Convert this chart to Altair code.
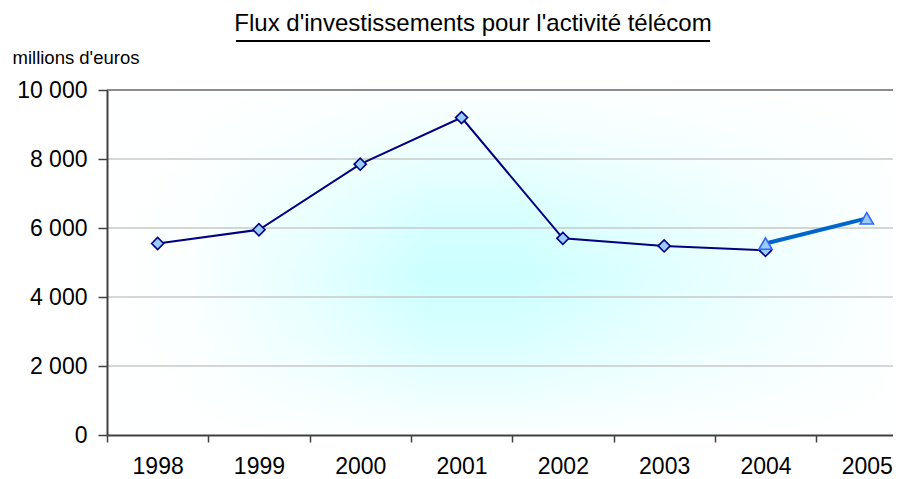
import altair as alt
import pandas as pd

years = [1998, 1999, 2000, 2001, 2002, 2003, 2004, 2005]
realise = [5550, 5950, 7850, 9200, 5700, 5480, 5350, None]
prevision = [None, None, None, None, None, None, 5550, 6280]
y_ticks = [0, 2000, 4000, 6000, 8000, 10000]
x_ticks = [1997.5, 1998.5, 1999.5, 2000.5, 2001.5, 2002.5, 2003.5, 2004.5]

title_text = "Flux d'investissements pour l'activité télécom"
unit_text = "millions d'euros"

rows = []
for yr, a, b in zip(years, realise, prevision):
    if a is not None:
        rows.append({"annee": yr, "valeur": a, "serie": "realise"})
    if b is not None:
        rows.append({"annee": yr, "valeur": b, "serie": "prevision"})
df = pd.DataFrame(rows)
grid_df = pd.DataFrame({"valeur": [v for v in y_ticks if v > 0]})

FONT = "Liberation Sans"
W, H = 786, 345

x_scale = alt.Scale(domain=[1997.5, 2005.259], nice=False, zero=False)
y_scale = alt.Scale(domain=[0, 10000], nice=False)

x_enc = alt.X(
    "annee:Q",
    scale=x_scale,
    axis=alt.Axis(
        values=x_ticks,
        labelExpr="format(datum.value + 0.5, 'd')",
        labelOffset=50.65,
        labelFlush=False,
        labelOverlap=False,
        labelFont=FONT,
        labelFontSize=23,
        labelColor="black",
        labelPadding=13,
        tickSize=7,
        tickColor="#404040",
        tickWidth=1.5,
        domainColor="#404040",
        domainWidth=2,
        grid=False,
        title=None,
        zindex=2,
    ),
)

y_axis = alt.Axis(
    values=y_ticks,
    labelExpr="replace(format(datum.value, ','), ',', ' ')",
    labelFont=FONT,
    labelFontSize=23,
    labelColor="black",
    labelPadding=11,
    tickSize=9,
    tickColor="#404040",
    tickWidth=1.5,
    domainColor="#404040",
    domainWidth=2,
    grid=False,
    title=unit_text,
    titleFont=FONT,
    titleFontSize=18.5,
    titleFontWeight="normal",
    titleColor="black",
    titleAngle=0,
    titleAlign="left",
    titleBaseline="middle",
    titleX=-95,
    titleY=-33,
    zindex=2,
)
y_enc = alt.Y("valeur:Q", scale=y_scale, axis=y_axis)

# horizontal cyan gradient + vertical white fade to mimic Excel's centre gradient
grad_h = alt.LinearGradient(
    gradient="linear", x1=0, y1=0, x2=1, y2=0,
    stops=[
        alt.GradientStop(offset=0, color="#ffffff"),
        alt.GradientStop(offset=0.1, color="#fbffff"),
        alt.GradientStop(offset=0.25, color="#e6ffff"),
        alt.GradientStop(offset=0.4, color="#ccffff"),
        alt.GradientStop(offset=0.5, color="#ccffff"),
        alt.GradientStop(offset=0.7, color="#e2ffff"),
        alt.GradientStop(offset=0.85, color="#f2ffff"),
        alt.GradientStop(offset=1, color="#ffffff"),
    ],
)
grad_v = alt.LinearGradient(
    gradient="linear", x1=0, y1=0, x2=0, y2=1,
    stops=[
        alt.GradientStop(offset=0, color="rgba(255,255,255,0.95)"),
        alt.GradientStop(offset=0.15, color="rgba(255,255,255,0.7)"),
        alt.GradientStop(offset=0.35, color="rgba(255,255,255,0.25)"),
        alt.GradientStop(offset=0.536, color="rgba(255,255,255,0)"),
        alt.GradientStop(offset=0.72, color="rgba(255,255,255,0.25)"),
        alt.GradientStop(offset=0.9, color="rgba(255,255,255,0.7)"),
        alt.GradientStop(offset=1, color="rgba(255,255,255,0.95)"),
    ],
)

one = alt.Data(values=[{"k": 1}])
bg_h = alt.Chart(one).mark_rect(fill=grad_h, strokeWidth=0).encode(
    x=alt.value(0), x2=alt.value(810), y=alt.value(0), y2=alt.value(H)
)
bg_v = alt.Chart(one).mark_rect(fill=grad_v, strokeWidth=0).encode(
    x=alt.value(0), x2=alt.value(810), y=alt.value(0), y2=alt.value(H)
)

grid = alt.Chart(grid_df).mark_rule().encode(
    y=y_enc,
    color=alt.condition("datum.valeur === 10000", alt.value("#8c8c8c"), alt.value("#c8c8c8")),
    strokeWidth=alt.condition("datum.valeur === 10000", alt.value(2), alt.value(1.5)),
)

base = alt.Chart(df)

line1 = base.transform_filter("datum.serie == 'realise'").mark_line(
    color="#000080",
    strokeWidth=2,
    point=alt.OverlayMarkDef(shape="diamond", size=145, filled=True, fill="#99ccff",
                             stroke="#000080", strokeWidth=1.6),
).encode(x=x_enc, y=y_enc)

line2 = base.transform_filter("datum.serie == 'prevision'").mark_line(
    color="#0066cc",
    strokeWidth=4,
    point=alt.OverlayMarkDef(shape="triangle-up", size=175, filled=True, fill="#99ccff",
                             stroke="#3366ff", strokeWidth=1.6),
).encode(x=x_enc, y=y_enc)

TITLE_SIZE = 24
title_mark = alt.Chart(alt.Data(values=[{"t": title_text}])).mark_text(
    font=FONT, fontSize=TITLE_SIZE, color="black", align="center", baseline="alphabetic"
).encode(text="t:N", x=alt.value(366), y=alt.value(-59))

underline = alt.Chart(alt.Data(values=[{"t": title_text}])).mark_rule(
    color="black", strokeWidth=2
).encode(x=alt.value(129), x2=alt.value(603), y=alt.value(-49))

chart = alt.layer(bg_h, bg_v, grid, line1, line2, title_mark, underline).properties(
    width=W, height=H,
    autosize=alt.AutoSizeParams(type="none"),
    padding={"left": 99, "top": 82, "right": 0, "bottom": 43},
    background="white",
).configure_view(stroke=None)

chart.save("out.html", embed_options={"renderer": "svg", "actions": False})
